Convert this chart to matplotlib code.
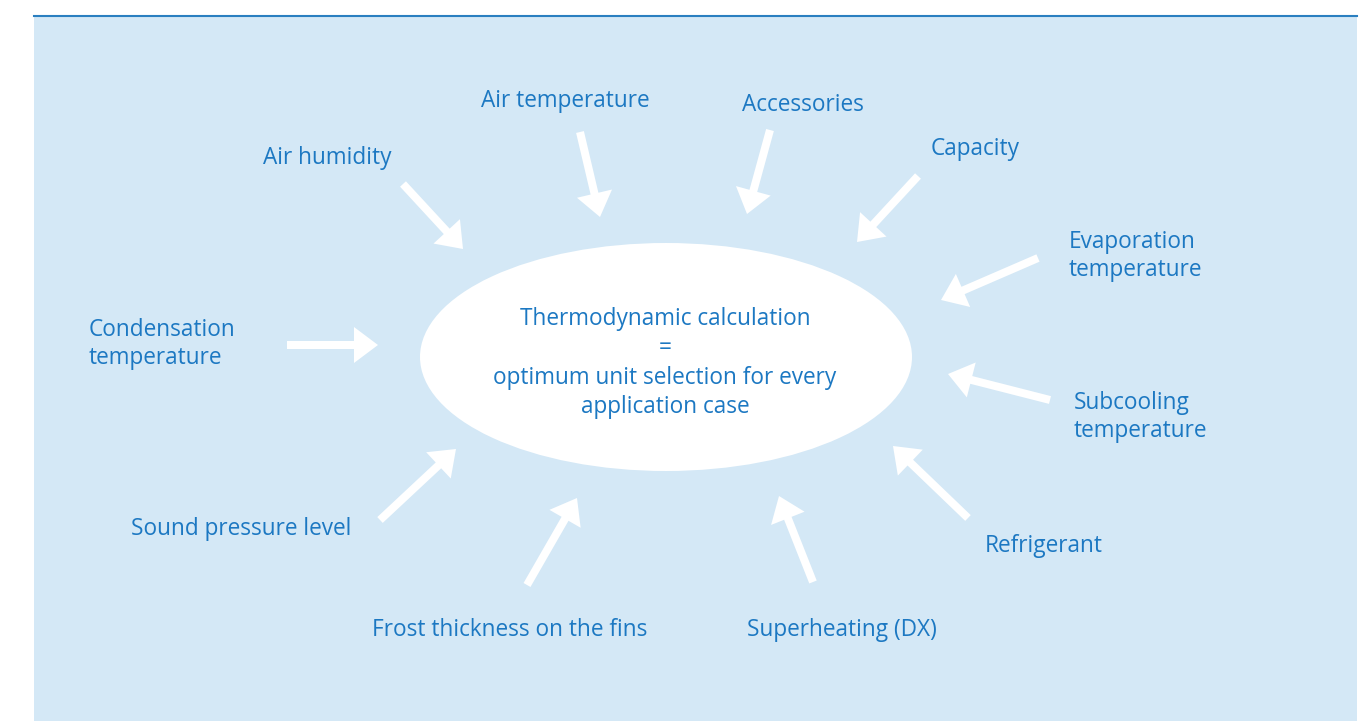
import matplotlib
matplotlib.use("Agg")
import matplotlib.pyplot as plt
from matplotlib.patches import Ellipse, FancyArrow, Rectangle

# Factors feeding the thermodynamic calculation
labels = [
    "Air humidity", "Air temperature", "Accessories", "Capacity",
    "Evaporation\ntemperature", "Subcooling\ntemperature", "Refrigerant",
    "Superheating (DX)", "Frost thickness on the fins",
    "Sound pressure level", "Condensation\ntemperature",
]
center_text = "Thermodynamic calculation\n=\noptimum unit selection for every\napplication case"

# label anchor (left, vertical centre of block), pixels
label_pos = [
    (263, 158), (481, 101), (742, 105), (931, 149),
    (1069, 256), (1074, 417), (985, 546),
    (747, 630), (372, 630), (131, 529), (89, 344),
]
# arrow tail -> tip, pixels
arrow_tail = [
    (403, 184), (580, 132), (770, 130), (918, 176),
    (1038, 258), (1050, 400), (968, 518),
    (813, 582), (527, 585), (380, 520), (287, 345),
]
arrow_tip = [
    (463, 249), (600, 217), (747, 214), (857, 242),
    (941, 300), (948, 374), (893, 446),
    (779, 496), (577, 498), (456, 449), (378, 345),
]

W, H = 1370, 721
BG = "#d4e8f6"
TXT = "#1c78c2"
LINE = "#2a7fc0"

fig = plt.figure(figsize=(W / 100, H / 100), dpi=100)
ax = fig.add_axes([0, 0, 1, 1])
ax.set_xlim(0, W)
ax.set_ylim(H, 0)
ax.axis("off")

ax.add_patch(Rectangle((34, 16), 1323, H, facecolor=BG, edgecolor="none"))
ax.plot([34, 1357], [16, 16], color=LINE, lw=1.5)

ax.add_patch(Ellipse((666, 357), 492, 228, facecolor="white", edgecolor="none"))

font = "Open Sans"
fs = 16.3

for (tx, ty), (hx, hy) in zip(arrow_tail, arrow_tip):
    ax.add_patch(FancyArrow(tx, ty, hx - tx, hy - ty, width=8, head_width=36,
                            head_length=24, length_includes_head=True,
                            facecolor="white", edgecolor="none"))

for lab, (x, y) in zip(labels, label_pos):
    ax.text(x, y, lab, ha="left", va="center", color=TXT, fontsize=fs,
            family=font, linespacing=1.24)

ax.text(665, 363, center_text, ha="center", va="center", color=TXT,
        fontsize=fs, family=font, linespacing=1.31)

fig.savefig("out.png", dpi=100)
